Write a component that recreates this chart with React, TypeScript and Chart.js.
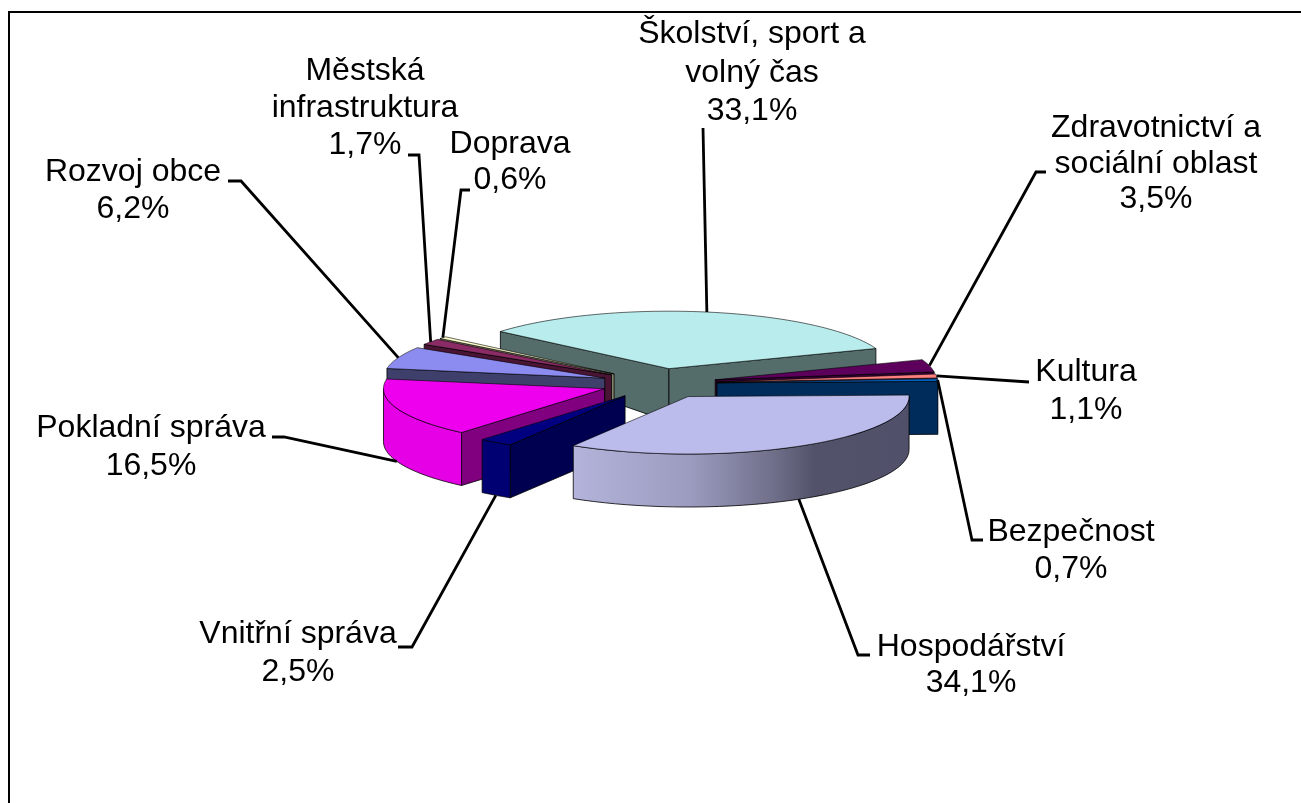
import React, { useEffect, useRef } from "react";
import { Chart, registerables } from "chart.js";

Chart.register(...registerables);

const categories = [
  "Školství, sport a volný čas",
  "Zdravotnictví a sociální oblast",
  "Kultura",
  "Bezpečnost",
  "Hospodářství",
  "Vnitřní správa",
  "Pokladní správa",
  "Rozvoj obce",
  "Městská infrastruktura",
  "Doprava",
];
const shares = [33.1, 3.5, 1.1, 0.7, 34.1, 2.5, 16.5, 6.2, 1.7, 0.6];

const labelLines = [
  ["Školství, sport a", "volný čas"],
  ["Zdravotnictví a", "sociální oblast"],
  ["Kultura"],
  ["Bezpečnost"],
  ["Hospodářství"],
  ["Vnitřní správa"],
  ["Pokladní správa"],
  ["Rozvoj obce"],
  ["Městská", "infrastruktura"],
  ["Doprava"],
];

const topColors = ["#b9ecec", "#5c005c", "#ff8080", "#0066cc", "#bcbcec", "#000080", "#ee00ee", "#8c8cf0", "#8a2b65", "#ffffcc"];
const radialColors = ["#546c6a", "#360036", "#8a4444", "#002c5c", "#50506a", "#000050", "#800080", "#3f3f6b", "#4a1434", "#8a8a6e"];
const outerColors = ["#7f9f9f", "#400040", "#aa5555", "#004488", "#50506a", "#000072", "#e600e6", "#6060a8", "#661f4a", "#aaaa88"];

// painter's order for the 3D walls, back to front
const wallOrder = [0, 9, 8, 7, 6, 1, 2, 3, 5, 4];

// label layout: centre x, centre y of each line
const labelX = [752, 1156, 1086, 1071, 971, 298, 151, 133, 365, 510];
const labelY = [
  [34, 73, 111],
  [128, 164, 199],
  [372, 410],
  [532, 569],
  [647, 683],
  [634, 672],
  [428, 466],
  [172, 209],
  [71, 108, 145],
  [144, 180],
];
// leader line elbows
const leaderElbows: number[][][] = [
  [[703, 128]],
  [[1046, 172], [1036, 172]],
  [[1029, 382]],
  [[983, 540], [972, 540]],
  [[870, 655], [858, 655]],
  [[398, 647], [412, 647]],
  [[272, 437], [284, 437]],
  [[228, 181], [241, 181]],
  [[408, 155], [419, 155]],
  [[470, 190], [461, 190]],
];

const SQUASH = 0.26;
const EXPLODE = 58;
const RADIUS = 221;
const FONT = '32px "Liberation Sans", Arial, sans-serif';

const depthAt = (y: number) => Math.min(53, Math.max(30, 32 + (y - 332) * 0.64));

function project(arc: any, theta: number) {
  const mid = (arc.startAngle + arc.endAngle) / 2;
  const dx = Math.cos(mid) * EXPLODE;
  const dy = Math.sin(mid) * EXPLODE;
  return {
    x: arc.x + dx + Math.cos(theta) * arc.outerRadius,
    y: arc.y + SQUASH * (dy + Math.sin(theta) * arc.outerRadius),
  };
}
function apex(arc: any) {
  const mid = (arc.startAngle + arc.endAngle) / 2;
  return {
    x: arc.x + Math.cos(mid) * EXPLODE,
    y: arc.y + SQUASH * Math.sin(mid) * EXPLODE,
  };
}

function radialWall(ctx: CanvasRenderingContext2D, arc: any, theta: number, color: string) {
  const a = apex(arc);
  const p = project(arc, theta);
  ctx.beginPath();
  ctx.moveTo(a.x, a.y);
  ctx.lineTo(p.x, p.y);
  ctx.lineTo(p.x, p.y + depthAt(p.y));
  ctx.lineTo(a.x, a.y + depthAt(a.y));
  ctx.closePath();
  ctx.fillStyle = color;
  ctx.fill();
  ctx.strokeStyle = "rgba(0,0,0,0.8)";
  ctx.lineWidth = 1;
  ctx.stroke();
}

function outerWall(ctx: CanvasRenderingContext2D, arc: any, from: number, to: number, fill: any) {
  const top: { x: number; y: number }[] = [];
  const steps = 40;
  for (let i = 0; i <= steps; i++) top.push(project(arc, from + ((to - from) * i) / steps));
  ctx.beginPath();
  top.forEach((p, i) => (i ? ctx.lineTo(p.x, p.y) : ctx.moveTo(p.x, p.y)));
  for (let i = steps; i >= 0; i--) ctx.lineTo(top[i].x, top[i].y + depthAt(top[i].y));
  ctx.closePath();
  ctx.fillStyle = fill;
  ctx.fill();
  ctx.strokeStyle = "rgba(0,0,0,0.8)";
  ctx.lineWidth = 1;
  ctx.stroke();
}

function topOutline(ctx: CanvasRenderingContext2D, arc: any) {
  const a = apex(arc);
  ctx.beginPath();
  ctx.moveTo(a.x, a.y);
  const steps = 60;
  for (let i = 0; i <= steps; i++) {
    const p = project(arc, arc.startAngle + ((arc.endAngle - arc.startAngle) * i) / steps);
    ctx.lineTo(p.x, p.y);
  }
  ctx.closePath();
  ctx.strokeStyle = "rgba(0,0,0,0.65)";
  ctx.lineWidth = 0.9;
  ctx.stroke();
}

const pie3d = {
  id: "pie3d",
  beforeDraw(chart: any) {
    const { ctx, width, height } = chart;
    ctx.save();
    ctx.fillStyle = "#ffffff";
    ctx.fillRect(0, 0, width, height);
    ctx.strokeStyle = "#000000";
    ctx.lineWidth = 2;
    ctx.beginPath();
    ctx.moveTo(9, height);
    ctx.lineTo(9, 12);
    ctx.lineTo(width, 12);
    ctx.stroke();
    ctx.restore();
  },
  beforeDatasetsDraw(chart: any) {
    const { ctx } = chart;
    const arcs = chart.getDatasetMeta(0).data;
    const TAU = Math.PI * 2;
    ctx.save();
    for (const i of wallOrder) {
      const arc = arcs[i];
      const s = arc.startAngle;
      const e = arc.endAngle;
      let from = Math.max(s, 0);
      let to = Math.min(e, Math.PI);
      if (s > Math.PI || e < 0) {
        from = Math.max(s - TAU, 0);
        to = Math.min(e - TAU, Math.PI);
      }
      if (Math.cos(s) < 0) radialWall(ctx, arc, s, radialColors[i]);
      if (Math.cos(e) > 0) radialWall(ctx, arc, e, radialColors[i]);
      if (to > from) {
        let fill: any = outerColors[i];
        if (i === 4) {
          const g = ctx.createLinearGradient(570, 0, 910, 0);
          g.addColorStop(0, "#b4b4dc");
          g.addColorStop(0.35, "#9c9cc0");
          g.addColorStop(0.6, "#6f6f8a");
          g.addColorStop(0.72, "#52526a");
          g.addColorStop(1, "#50506a");
          fill = g;
        }
        outerWall(ctx, arc, from, to, fill);
      }
    }
    for (const i of wallOrder) {
      const arc = arcs[i];
      const a = apex(arc);
      ctx.save();
      ctx.translate(a.x, a.y);
      ctx.scale(1, SQUASH);
      ctx.translate(-arc.x, -arc.y);
      arc.draw(ctx);
      ctx.restore();
      topOutline(ctx, arc);
    }
    ctx.restore();
    return false;
  },
  afterDraw(chart: any) {
    const { ctx } = chart;
    const arcs = chart.getDatasetMeta(0).data;
    ctx.save();
    ctx.strokeStyle = "#000000";
    ctx.lineWidth = 2.8;
    ctx.lineJoin = "miter";
    arcs.forEach((arc: any, i: number) => {
      const mid = (arc.startAngle + arc.endAngle) / 2;
      const p = project(arc, mid);
      const front = Math.sin(mid) > 0.3;
      const end = { x: p.x, y: front ? p.y + depthAt(p.y) : p.y };
      ctx.beginPath();
      leaderElbows[i].forEach((q, j) => (j ? ctx.lineTo(q[0], q[1]) : ctx.moveTo(q[0], q[1])));
      ctx.lineTo(end.x, end.y);
      ctx.stroke();
    });
    ctx.fillStyle = "#000000";
    ctx.font = FONT;
    ctx.textAlign = "center";
    ctx.textBaseline = "middle";
    labelLines.forEach((lines, i) => {
      const all = [...lines, `${String(shares[i]).replace(".", ",")}%`];
      all.forEach((t, j) => ctx.fillText(t, labelX[i], labelY[i][j]));
    });
    ctx.restore();
  },
};

export default function App() {
  const ref = useRef<HTMLCanvasElement>(null);
  useEffect(() => {
    const chart = new Chart(ref.current!, {
      type: "pie",
      data: {
        labels: categories,
        datasets: [{ data: shares, backgroundColor: topColors, borderWidth: 0 }],
      },
      options: {
        animation: false,
        responsive: false,
        rotation: -49.7,
        radius: RADIUS,
        layout: { padding: { left: 17, bottom: 36 } },
        plugins: { legend: { display: false }, tooltip: { enabled: false } },
      } as any,
      plugins: [pie3d as any],
    });
    return () => chart.destroy();
  }, []);
  return (
    <div style={{ position: "fixed", left: 0, top: 0, width: 1301, height: 803, overflow: "hidden" }}>
      <canvas ref={ref} width={1301} height={803} style={{ display: "block" }} />
    </div>
  );
}
